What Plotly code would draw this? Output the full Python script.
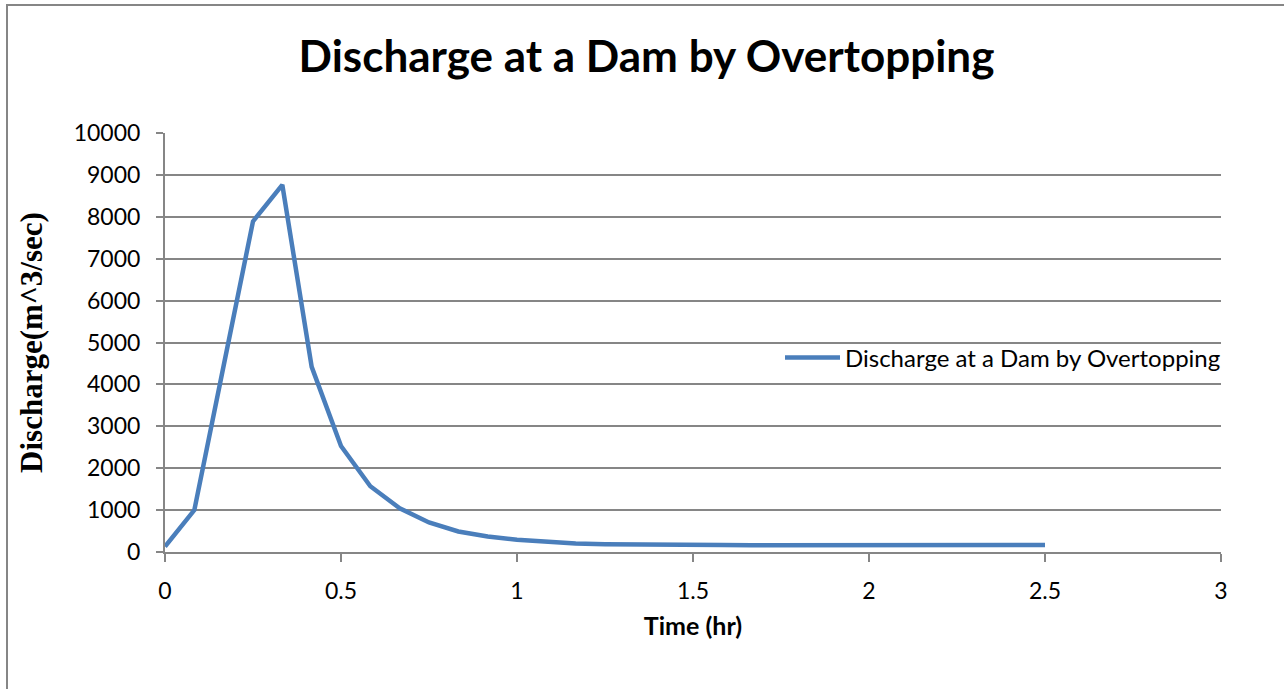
import plotly.graph_objects as go

# Time since start of overtopping (hr), 5-minute steps
time_hr = [0.0, 0.0833, 0.1667, 0.25, 0.3333, 0.4167, 0.5, 0.5833, 0.6667, 0.75,
           0.8333, 0.9167, 1.0, 1.0833, 1.1667, 1.25, 1.3333, 1.4167, 1.5, 1.5833,
           1.6667, 1.75, 1.8333, 1.9167, 2.0, 2.0833, 2.1667, 2.25, 2.3333, 2.4167, 2.5]

# Discharge (m^3/sec)
discharge = [130, 1000, 4450, 7890, 8760, 4420, 2530, 1570, 1045, 705,
             490, 370, 295, 240, 205, 185, 175, 170, 165, 165,
             163, 161, 160, 160, 160, 160, 160, 165, 167, 167, 167]

series_name = "Discharge at a Dam by Overtopping"
x_ticks = [0, 0.5, 1, 1.5, 2, 2.5, 3]
x_tick_text = ["0", "0.5", "1", "1.5", "2", "2.5", "3"]
y_ticks = [0, 1000, 2000, 3000, 4000, 5000, 6000, 7000, 8000, 9000, 10000]
y_tick_text = ["0", "1000", "2000", "3000", "4000", "5000", "6000", "7000", "8000", "9000", "10000"]

grid = "#868686"
body_font = "Lato"

fig = go.Figure()
fig.add_trace(go.Scatter(
    x=time_hr, y=discharge, mode="lines", name=series_name,
    line=dict(color="#4A7EBB", width=4.5),
))

fig.update_layout(
    width=1284, height=689,
    margin=dict(l=165, r=63, t=133, b=137),
    paper_bgcolor="white", plot_bgcolor="white",
    title=dict(text="<b>Discharge at a Dam by Overtopping</b>",
               font=dict(family=body_font, size=44, color="black"),
               x=0.5035, xanchor="center", y=1 - 57 / 689, yanchor="middle"),
    showlegend=True,
    legend=dict(x=(780 - 165) / 1056, xanchor="left", y=0.463, yanchor="middle",
                bgcolor="rgba(0,0,0,0)", itemwidth=55,
                font=dict(family=body_font, size=24, color="black")),
    xaxis=dict(range=[0, 3], tickvals=x_ticks, ticktext=x_tick_text,
               showgrid=False, zeroline=False, showline=True, linecolor=grid, linewidth=2,
               ticks="outside", ticklen=8, tickcolor=grid, tickwidth=2,
               ticklabelstandoff=9,
               tickfont=dict(family=body_font, size=23, color="black"),
               title=dict(text="<b>Time (hr)</b>", standoff=15,
                          font=dict(family=body_font, size=25, color="black"))),
    yaxis=dict(range=[0, 10000], tickvals=y_ticks, ticktext=y_tick_text,
               showgrid=True, gridcolor=grid, gridwidth=2,
               zeroline=False, showline=True, linecolor=grid, linewidth=2,
               ticks="outside", ticklen=7, tickcolor=grid, tickwidth=2,
               ticklabelstandoff=11,
               tickfont=dict(family=body_font, size=23, color="black"),
               title=dict(text="<b>Discharge(m^3/sec)</b>", standoff=22,
                          font=dict(family="Liberation Serif", size=31, color="black"))),
)

# Chart-area border
fig.add_shape(type="rect", xref="paper", yref="paper",
              x0=(7 - 165) / 1056, x1=1.3, y0=-0.5, y1=(552 - 5) / 419,
              line=dict(color=grid, width=2), fillcolor="rgba(0,0,0,0)", layer="below")

fig.write_html("out.html")
